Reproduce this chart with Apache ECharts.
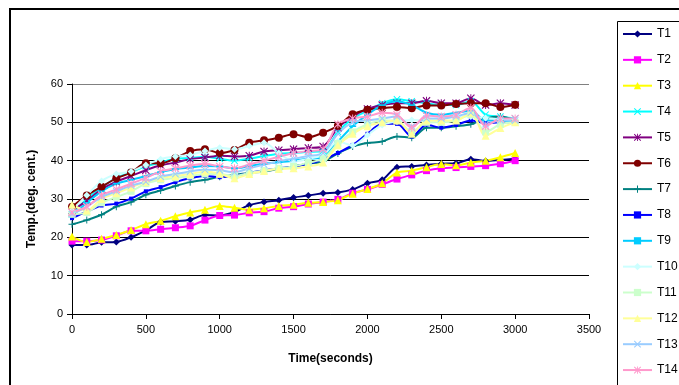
<!DOCTYPE html>
<html>
<head>
<meta charset="utf-8">
<script src="https://cdn.jsdelivr.net/npm/echarts@6/dist/echarts.min.js"></script>
<style>
  html, body { margin: 0; padding: 0; background: #fff; }
  #chart { width: 679px; height: 385px; }
</style>
</head>
<body>
<div id="chart"></div>
<script>
// Sampling times (s)
var times = [0,100,200,300,400,500,600,700,800,900,1000,1100,1200,1300,1400,1500,1600,1700,1800,1900,2000,2100,2200,2300,2400,2500,2600,2700,2800,2900,3000];

// Thermocouple readings (deg C)
var T1  = [18.0,18.0,18.7,18.8,20.0,21.8,24.0,24.2,24.6,25.8,25.7,26.6,28.4,29.2,29.7,30.4,30.9,31.5,31.7,32.5,34.1,35.0,38.3,38.5,38.9,39.2,39.3,40.4,39.9,40.2,40.5];
var T2  = [19.0,19.0,19.3,20.4,21.7,21.7,22.1,22.5,23.0,24.5,25.7,25.8,26.4,26.7,27.6,28.0,28.7,29.2,29.9,31.5,32.5,33.8,35.2,36.3,37.4,38.0,38.2,38.5,38.7,39.2,40.0];
var T3  = [20.2,18.8,19.6,20.6,21.9,23.4,24.3,25.5,26.5,27.2,28.2,27.7,27.2,27.6,28.2,28.5,29.0,29.2,29.7,31.4,32.6,34.1,36.9,37.4,38.3,39.1,38.8,39.5,40.0,40.9,42.0];
var T4  = [26.0,30.0,33.0,35.5,37.0,38.5,39.5,40.5,40.7,41.0,40.5,40.0,40.5,41.2,41.8,42.0,42.3,42.5,47.5,51.0,53.0,55.0,56.0,55.5,55.0,54.5,54.5,55.5,52.0,51.5,51.0];
var T5  = [27.0,29.5,32.5,34.5,36.0,37.5,38.8,39.5,40.4,40.8,41.3,41.1,41.3,42.4,42.7,43.0,43.3,43.7,48.6,51.5,53.5,54.5,55.0,55.0,55.6,55.0,55.0,56.3,54.5,55.0,54.5];
var T6  = [28.0,30.9,33.2,35.4,36.9,39.3,39.3,40.6,42.5,43.0,42.0,42.8,44.7,45.3,46.0,46.9,46.1,47.3,49.1,52.1,53.3,53.7,54.0,53.7,54.4,54.4,54.8,55.0,55.0,54.0,54.6];
var T7  = [23.4,24.5,25.9,28.0,29.2,31.1,32.2,33.4,34.4,35.0,35.8,36.3,36.8,37.2,37.8,38.5,39.2,39.8,41.9,43.7,44.6,45.0,46.3,46.0,48.6,48.6,49.0,49.5,51.0,51.5,50.5];
var T8  = [25.0,26.7,28.3,28.8,30.1,32.0,33.1,34.4,35.4,36.0,35.7,36.0,36.8,37.5,38.0,38.5,39.2,40.3,42.0,44.1,47.0,49.6,49.6,46.3,49.4,48.6,49.3,50.5,49.8,50.0,50.0];
var T9  = [25.5,29.0,32.0,34.0,35.0,36.0,37.0,37.8,38.2,38.6,38.5,38.0,38.6,39.2,39.6,40.0,40.5,41.0,45.0,49.0,52.0,54.5,55.5,54.5,52.5,52.0,52.5,53.0,50.5,50.5,50.0];
var T10 = [27.0,31.0,34.7,36.5,37.2,38.9,40.4,41.1,41.5,42.5,43.4,43.0,43.8,44.7,42.0,39.8,40.5,41.5,45.0,44.0,46.7,49.3,50.2,50.6,50.5,50.8,51.5,51.5,51.1,50.8,50.5];
var T11 = [26.0,26.5,29.0,30.5,32.0,34.0,35.0,35.5,36.0,36.5,36.5,36.0,36.8,37.4,38.0,38.5,39.5,40.5,44.5,47.5,49.5,50.5,50.5,47.5,50.0,50.0,50.5,52.0,47.5,49.5,50.0];
var T12 = [28.5,27.0,30.0,31.5,33.0,34.5,35.5,36.0,36.5,37.2,36.6,35.4,36.5,37.3,37.8,38.0,38.5,39.5,44.0,47.0,49.0,50.0,50.5,47.0,50.5,50.5,50.5,52.5,46.5,48.5,50.0];
var T13 = [26.0,28.0,30.5,32.0,33.5,34.5,35.8,36.5,37.2,37.6,37.5,37.0,38.0,39.0,39.8,40.5,41.2,42.0,47.0,50.0,50.5,51.0,51.5,49.0,51.0,51.0,51.5,52.5,49.5,50.5,50.5];
var T14 = [26.5,28.0,31.0,32.5,34.0,35.5,37.2,38.0,38.7,39.1,38.5,38.0,39.0,40.0,41.0,42.0,42.5,43.0,49.5,51.0,51.5,52.5,52.0,48.6,51.8,51.5,52.0,53.8,49.0,51.0,51.0];

// Axis ticks
var xTicks = [0,500,1000,1500,2000,2500,3000,3500];
var yTicks = [0,10,20,30,40,50,60];

// Marker shapes
var SYM_X = 'path://M0,1 L1,0 L5,4 L9,0 L10,1 L6,5 L10,9 L9,10 L5,6 L1,10 L0,9 L4,5 Z';
var SYM_PLUS = 'path://M4.3,0 H5.7 V4.3 H10 V5.7 H5.7 V10 H4.3 V5.7 H0 V4.3 H4.3 Z';
var SYM_STAR = 'path://M0,1 L1,0 L5,4 L9,0 L10,1 L6,5 L10,9 L9,10 L5,6 L1,10 L0,9 L4,5 Z M4.4,0 H5.6 V10 H4.4 Z';
var SYM_DASH = 'path://M0,0 H10 V2.4 H0 Z';

var seriesDefs = [
  { name: 'T1',  data: T1,  color: '#000080', symbol: 'diamond',  size: 7 },
  { name: 'T2',  data: T2,  color: '#FF00FF', symbol: 'rect',     size: 7 },
  { name: 'T3',  data: T3,  color: '#FFFF00', symbol: 'triangle', size: 8 },
  { name: 'T4',  data: T4,  color: '#00FFFF', symbol: SYM_X,      size: 7 },
  { name: 'T5',  data: T5,  color: '#800080', symbol: SYM_STAR,   size: 8 },
  { name: 'T6',  data: T6,  color: '#800000', symbol: 'circle',   size: 8 },
  { name: 'T7',  data: T7,  color: '#008080', symbol: SYM_PLUS,   size: 7 },
  { name: 'T8',  data: T8,  color: '#0000FF', symbol: 'rect',     size: 4 },
  { name: 'T9',  data: T9,  color: '#00CCFF', symbol: SYM_DASH,   size: 7 },
  { name: 'T10', data: T10, color: '#CCFFFF', symbol: 'diamond',  size: 7 },
  { name: 'T11', data: T11, color: '#CCFFCC', symbol: 'rect',     size: 7 },
  { name: 'T12', data: T12, color: '#FFFF99', symbol: 'triangle', size: 8 },
  { name: 'T13', data: T13, color: '#99CCFF', symbol: SYM_X,      size: 7 },
  { name: 'T14', data: T14, color: '#FF99CC', symbol: SYM_STAR,   size: 8 }
];

var series = seriesDefs.map(function (d) {
  return {
    name: d.name,
    type: 'line',
    smooth: 0.3,
    data: times.map(function (t, i) { return [t, d.data[i]]; }),
    symbol: d.symbol,
    symbolSize: d.size,
    symbolKeepAspect: true,
    showAllSymbol: true,
    lineStyle: { color: d.color, width: 2 },
    itemStyle: { color: d.color, borderWidth: 0 },
    z: 3
  };
});

var chart = echarts.init(document.getElementById('chart'), null, { renderer: 'canvas' });
chart.setOption({
  animation: false,
  backgroundColor: '#ffffff',
  textStyle: { fontFamily: 'Liberation Sans, Arial, sans-serif' },
  graphic: [
    { type: 'rect', z: 0, shape: { x: 10, y: 9, width: 720, height: 420 },
      style: { fill: '#ffffff', stroke: '#000000', lineWidth: 2 } },
    { type: 'rect', z: 1, shape: { x: 617.5, y: 21.5, width: 80, height: 400 },
      style: { fill: '#ffffff', stroke: '#000000', lineWidth: 1 } }
  ],
  grid: {
    left: 72, top: 84, width: 517, height: 230,
    show: true, backgroundColor: '#C0C0C0', borderColor: '#808080', borderWidth: 1
  },
  legend: {
    orient: 'vertical', left: 622, top: 28, z: 10, padding: 0,
    itemWidth: 29, itemHeight: 9, itemGap: 13.85,
    textStyle: { fontSize: 12, color: '#000', fontFamily: 'Liberation Sans, Arial, sans-serif' },
    data: seriesDefs.map(function (d) { return d.name; })
  },
  xAxis: {
    type: 'value', min: xTicks[0], max: xTicks[xTicks.length - 1], interval: 500,
    name: 'Time(seconds)', nameLocation: 'middle', nameGap: 39,
    nameTextStyle: { fontSize: 12, fontWeight: 'bold', color: '#000' },
    axisLine: { show: true, lineStyle: { color: '#000', width: 1 } },
    axisTick: { show: true, inside: false, length: 5, lineStyle: { color: '#000' } },
    axisLabel: { fontSize: 11, color: '#000', margin: 10, formatter: function (v) { return String(v); } },
    splitLine: { show: false }
  },
  yAxis: {
    type: 'value', min: yTicks[0], max: yTicks[yTicks.length - 1], interval: 10,
    name: 'Temp.(deg. cent.)', nameLocation: 'middle', nameGap: 34,
    nameTextStyle: { fontSize: 12, fontWeight: 'bold', color: '#000' },
    axisLine: { show: true, lineStyle: { color: '#000', width: 1 } },
    axisTick: { show: true, inside: false, length: 5, lineStyle: { color: '#000' } },
    axisLabel: { fontSize: 11, color: '#000', margin: 9 },
    splitLine: { show: true, lineStyle: { color: ['#000','#000','#000','#000','#000','#000','#808080'], width: 1 } }
  },
  series: series
});
</script>
</body>
</html>
